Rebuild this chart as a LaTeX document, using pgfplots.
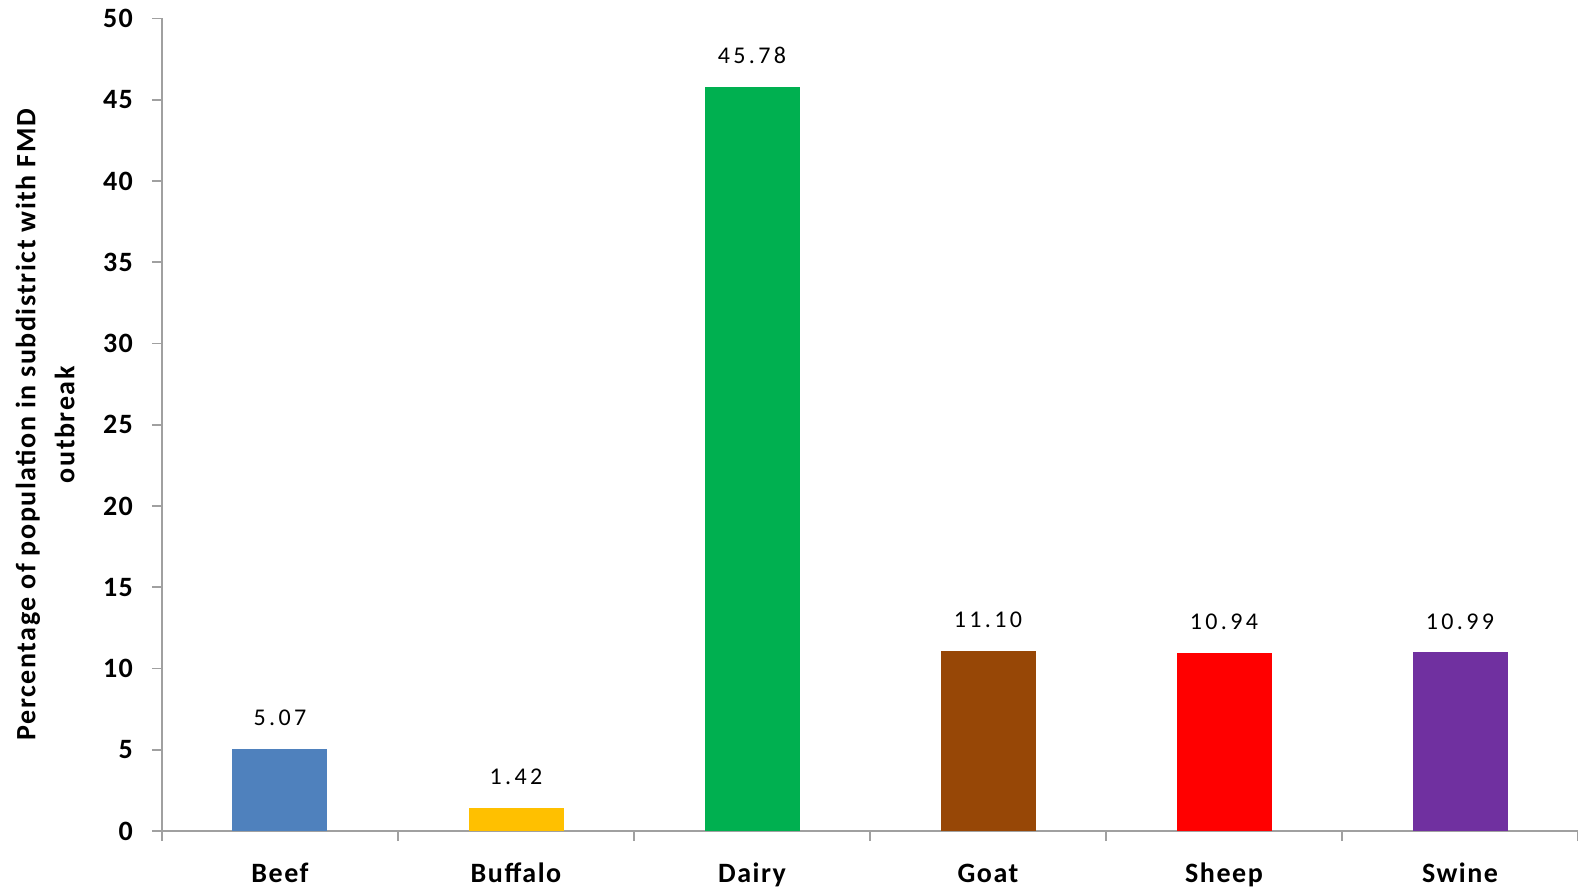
\documentclass[border=0pt]{standalone}
\usepackage{pgfplots}
\pgfplotsset{compat=1.18}
\usepackage{fontspec}
\setmainfont{Carlito}
\newfontfamily\boldlbl[LetterSpace=5.5]{Carlito}
\newfontfamily\reglbl[LetterSpace=14]{Carlito}
\definecolor{cBeef}{HTML}{4F81BD}
\definecolor{cBuffalo}{HTML}{FFC000}
\definecolor{cDairy}{HTML}{00B050}
\definecolor{cGoat}{HTML}{974706}
\definecolor{cSheep}{HTML}{FF0000}
\definecolor{cSwine}{HTML}{7030A0}
\definecolor{axgray}{RGB}{160,160,160}
\begin{document}
\begin{tikzpicture}
\begin{axis}[
  scale only axis,
  width=708pt, height=406.25pt,
  xmin=-0.5, xmax=5.5, ymin=0, ymax=50,
  axis x line*=bottom, axis y line*=left,
  axis line style={axgray, line width=0.9pt},
  xtick={0,1,2,3,4,5},
  xticklabels={Beef,Buffalo,Dairy,Goat,Sheep,Swine},
  minor xtick={-0.5,0.5,1.5,2.5,3.5,4.5,5.5},
  major x tick style={draw=none},
  minor x tick style={axgray, line width=0.9pt},
  y tick style={axgray, line width=0.9pt},
  tick align=outside,
  major tick length=5pt, minor tick length=5pt,
  ytick={0,5,...,50},
  /pgf/number format/assume math mode=true,
  ticklabel style={font=\boldlbl\fontsize{14}{16}\selectfont\bfseries},
  xticklabel style={yshift=-7pt, text height=10pt},
  yticklabel style={xshift=-6pt},
  every axis y label/.style={at={(axis description cs:-0.0826,0.5)}, rotate=90, anchor=center, align=center, font=\boldlbl\fontsize{14}{19.5}\selectfont\bfseries},
  ylabel={Percentage of population in subdistrict with FMD\\outbreak},
  nodes near coords,
  every node near coord/.append style={font=\reglbl\fontsize{12}{14}\selectfont, yshift=8pt, /pgf/number format/.cd, fixed, fixed zerofill, precision=2, assume math mode=true},
  clip=false,
]
\addplot[ybar, bar width=47.5pt, bar shift=0pt, fill=cBeef, draw=none] coordinates {(0,5.07)};
\addplot[ybar, bar width=47.5pt, bar shift=0pt, fill=cBuffalo, draw=none] coordinates {(1,1.42)};
\addplot[ybar, bar width=47.5pt, bar shift=0pt, fill=cDairy, draw=none] coordinates {(2,45.78)};
\addplot[ybar, bar width=47.5pt, bar shift=0pt, fill=cGoat, draw=none] coordinates {(3,11.10)};
\addplot[ybar, bar width=47.5pt, bar shift=0pt, fill=cSheep, draw=none] coordinates {(4,10.94)};
\addplot[ybar, bar width=47.5pt, bar shift=0pt, fill=cSwine, draw=none] coordinates {(5,10.99)};
\end{axis}
\pgfresetboundingbox
\useasboundingbox (-81pt,-29pt) rectangle (708pt,415.5pt);
\end{tikzpicture}
\end{document}
